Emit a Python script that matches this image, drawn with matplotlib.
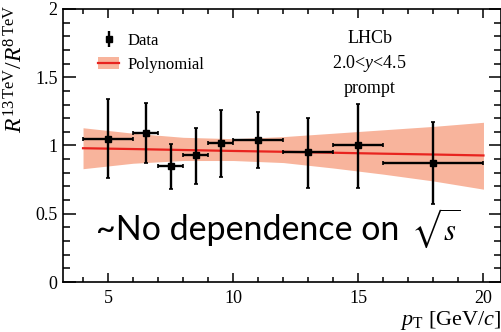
import matplotlib
matplotlib.use("Agg")
import matplotlib.pyplot as plt
from matplotlib.ticker import MultipleLocator
from matplotlib.patches import Patch
from matplotlib.lines import Line2D

# Measured ratio R(13 TeV)/R(8 TeV) in pT bins
pt_center = [5.0, 6.5, 7.5, 8.5, 9.5, 11.0, 13.0, 15.0, 18.0]
pt_low = [4.0, 6.0, 7.0, 8.0, 9.0, 10.0, 12.0, 14.0, 16.0]
pt_high = [6.0, 7.0, 8.0, 9.0, 10.0, 12.0, 14.0, 16.0, 20.0]
ratio = [1.05, 1.09, 0.85, 0.93, 1.015, 1.037, 0.95, 1.007, 0.87]
err_up = [0.29, 0.22, 0.16, 0.20, 0.245, 0.205, 0.255, 0.30, 0.30]
err_dn = [0.29, 0.22, 0.17, 0.215, 0.245, 0.205, 0.265, 0.32, 0.30]

# Polynomial fit with its uncertainty band
fit_pt = [4, 6, 8, 10, 12, 14, 16, 18, 20]
fit_central = [0.980, 0.974, 0.967, 0.960, 0.954, 0.947, 0.940, 0.934, 0.927]
fit_upper = [1.13, 1.09, 1.06, 1.05, 1.065, 1.09, 1.115, 1.14, 1.17]
fit_lower = [0.83, 0.87, 0.89, 0.89, 0.875, 0.835, 0.79, 0.74, 0.68]

ytick_values = [0, 0.5, 1, 1.5, 2]
ytick_labels = ["0", "0.5", "1", "1.5", "2"]
xtick_values = [5, 10, 15, 20]
xtick_labels = ["5", "10", "15", "20"]

plt.rcParams["font.family"] = ["Liberation Serif"]
plt.rcParams["mathtext.fontset"] = "custom"
plt.rcParams["mathtext.rm"] = "Liberation Serif"
plt.rcParams["mathtext.it"] = "Liberation Serif:italic"
plt.rcParams["mathtext.bf"] = "Liberation Serif:bold"

fig = plt.figure(figsize=(5.02, 3.32), dpi=100)
ax = fig.add_axes([0.1255, 0.1506, 0.8725, 0.8223])

band_color = "#f8b49c"
line_color = "#e8231f"

ax.fill_between(fit_pt, fit_lower, fit_upper, color=band_color, lw=0, zorder=1)
ax.plot(fit_pt, fit_central, color=line_color, lw=1.6, zorder=2)

xerr = [[c - lo for c, lo in zip(pt_center, pt_low)],
        [hi - c for c, hi in zip(pt_center, pt_high)]]
yerr = [err_dn, err_up]
ax.errorbar(pt_center, ratio, xerr=xerr, yerr=yerr, fmt="s", color="black",
            ms=5, elinewidth=1.7, capsize=1.5, capthick=1.2, zorder=3)

ax.set_xlim(3.2, 20.7)
ax.set_ylim(0, 2)
ax.set_xticks(xtick_values)
ax.set_xticklabels(xtick_labels)
ax.set_yticks(ytick_values)
ax.set_yticklabels(ytick_labels)
ax.xaxis.set_minor_locator(MultipleLocator(1))
ax.yaxis.set_minor_locator(MultipleLocator(0.1))

for s in ax.spines.values():
    s.set_linewidth(1.2)
ax.tick_params(axis="both", which="both", direction="in", top=True, right=True,
               width=1.1, labelsize=13)
ax.tick_params(axis="x", which="major", length=6.5, pad=6)
ax.tick_params(axis="x", which="minor", length=3.5)
ax.tick_params(axis="y", which="major", length=9, pad=4)
ax.tick_params(axis="y", which="minor", length=5)

ax.set_ylabel(r"$R^{\mathrm{13\,TeV}}/R^{\mathrm{8\,TeV}}$", fontsize=17, loc="top")
ax.yaxis.set_label_coords(-0.08, 1.015)
ax.set_xlabel(r"$p_{\mathrm{T}}$ [GeV/$c$]", fontsize=16, loc="right")
ax.xaxis.set_label_coords(1.0, -0.1)

eb = ax.errorbar([], [], yerr=[], fmt="s", color="black", ms=5, elinewidth=1.7)
poly_handle = (Patch(color=band_color, lw=0), Line2D([], [], color=line_color, lw=1.6))
ax.legend([eb, poly_handle], ["Data", "Polynomial"], loc="upper left",
          bbox_to_anchor=(0.045, 0.968), frameon=False, fontsize=12,
          handlelength=1.3, handletextpad=0.5, labelspacing=0.5)

ax.text(0.70, 0.893, "LHCb", transform=ax.transAxes, ha="center", va="center",
        fontsize=13)
ax.text(0.70, 0.80, r"2.0<$y$<4.5", transform=ax.transAxes, ha="center",
        va="center", fontsize=13)
ax.text(0.70, 0.71, "prompt", transform=ax.transAxes, ha="center", va="center",
        fontsize=13)

ax.text(0.075, 0.154, "~No dependence on", transform=ax.transAxes,
        ha="left", va="baseline", fontsize=24.5, family="Lato")
ax.text(0.795, 0.154, r"$\sqrt{s}$", transform=ax.transAxes,
        ha="left", va="baseline", fontsize=22, math_fontfamily="stix")

fig.savefig("out.png", dpi=100)
